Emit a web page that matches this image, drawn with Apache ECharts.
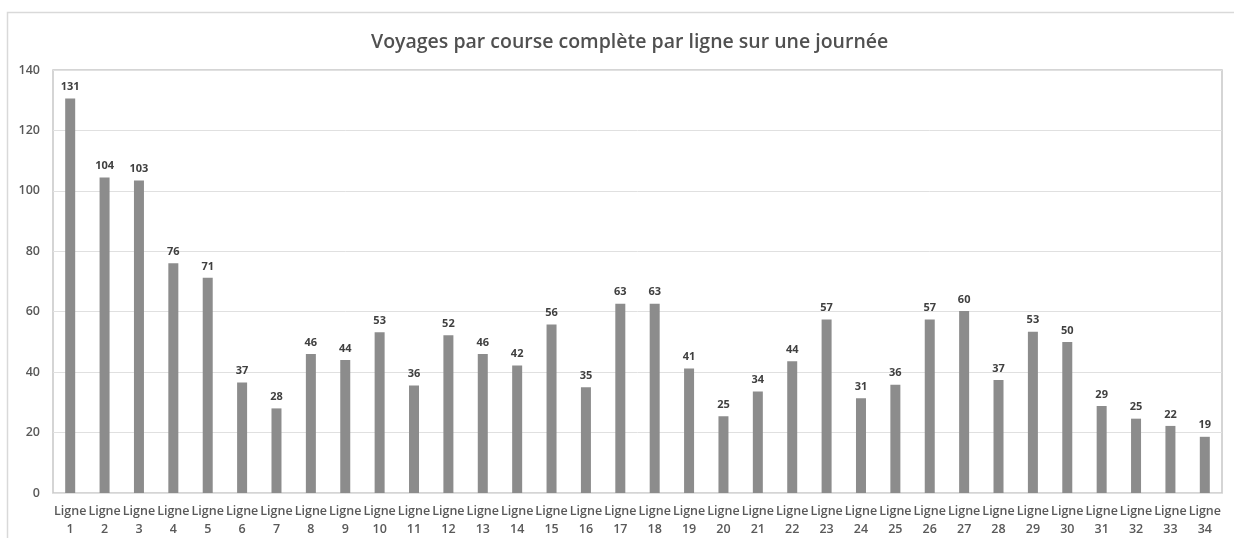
<!DOCTYPE html>
<html><head><meta charset="utf-8">
<script src="https://cdn.jsdelivr.net/npm/echarts@6/dist/echarts.min.js"></script>
<style>html,body{margin:0;padding:0;background:#fff}#c{width:1234px;height:538px}</style>
</head><body><div id="c"></div>
<script>
const categories = ["Ligne 1","Ligne 2","Ligne 3","Ligne 4","Ligne 5","Ligne 6","Ligne 7","Ligne 8","Ligne 9","Ligne 10","Ligne 11","Ligne 12","Ligne 13","Ligne 14","Ligne 15","Ligne 16","Ligne 17","Ligne 18","Ligne 19","Ligne 20","Ligne 21","Ligne 22","Ligne 23","Ligne 24","Ligne 25","Ligne 26","Ligne 27","Ligne 28","Ligne 29","Ligne 30","Ligne 31","Ligne 32","Ligne 33","Ligne 34"];
const voyages = [130.6,104.4,103.4,76,71.2,36.6,28,46,44,53.2,35.6,52.2,46,42.2,55.8,35,62.6,62.6,41.2,25.4,33.6,43.6,57.4,31.4,35.8,57.4,60.2,37.4,53.4,50,28.8,24.6,22.2,18.6];
const yTicks = {min:0, max:140, interval:20};
const titleText = "Voyages par course complète par ligne sur une journée";

const chart = echarts.init(document.getElementById('c'), null, {renderer:'canvas'});
const font = "'Open Sans', 'Noto Sans', sans-serif";
chart.setOption({
  animation:false,
  backgroundColor:'#fff',
  graphic:[{type:'rect', shape:{x:7.5,y:12.5,width:1240,height:560}, style:{fill:'none', stroke:'#d9d9d9', lineWidth:1.5}, silent:true}],
  title:{text:titleText, left:366, top:27, textStyle:{fontFamily:font, fontSize:19.5, fontWeight:600, color:'#505050'}},
  grid:{left:53, right:12, top:70, bottom:45, show:true, borderColor:'#c8c8c8', borderWidth:1.5, backgroundColor:'transparent'},
  xAxis:{type:'category', data:categories,
    axisLine:{show:false}, axisTick:{show:false},
    axisLabel:{interval:0, fontFamily:font, fontSize:12.5, fontWeight:600, color:'#595959', lineHeight:18, margin:9,
      formatter:v=>v.replace(' ','\n')}},
  yAxis:{type:'value', min:yTicks.min, max:yTicks.max, interval:yTicks.interval,
    axisLine:{show:false}, axisTick:{show:false},
    axisLabel:{fontFamily:font, fontSize:12.5, fontWeight:600, color:'#595959', margin:13},
    splitLine:{lineStyle:{color:'#e0e0e0', width:1}}},
  series:[{type:'bar', data:voyages, barWidth:10, itemStyle:{color:'#8c8c8c'},
    label:{show:true, position:'top', distance:6, fontFamily:font, fontSize:11, fontWeight:'bold', color:'#404040',
      formatter:p=>Math.round(p.value)}}]
});
</script></body></html>
